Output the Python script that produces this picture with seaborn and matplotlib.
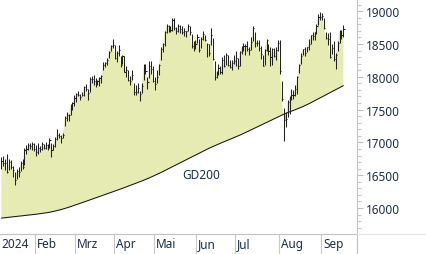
import numpy as np
import pandas as pd
import matplotlib
matplotlib.use("Agg")
import matplotlib.pyplot as plt
import seaborn as sns
from matplotlib.transforms import blended_transform_factory
from matplotlib.lines import Line2D

# ---------------- data (DAX daily, Jan 8 - Sep 17 2024) -------------
close_jan = [16716, 16688, 16690, 16547, 16705, 16622, 16572, 16432, 16567, 16555, 16683, 16628, 16890, 16907, 16961, 16942, 16972, 16904]
high_jan = [16780, 16790, 16740, 16820, 16740, 16730, 16640, 16545, 16600, 16630, 16720, 16740, 16910, 16960, 16985, 16990, 17010, 16990]
low_jan = [16590, 16640, 16580, 16540, 16580, 16600, 16480, 16345, 16440, 16480, 16560, 16590, 16650, 16820, 16890, 16900, 16890, 16870]

close_feb = [16859, 16918, 16904, 16970, 16922, 16964, 16927, 17037, 16880, 16946, 17047, 17117, 17093, 17068, 17118, 17370, 17419, 17424, 17556, 17601, 17678]
high_feb = [16960, 16990, 16940, 17000, 16980, 17000, 16980, 17060, 16990, 16980, 17080, 17200, 17140, 17110, 17140, 17400, 17460, 17430, 17580, 17620, 17720]
low_feb = [16800, 16830, 16850, 16890, 16900, 16900, 16890, 16910, 16780, 16890, 16930, 17040, 17060, 16990, 17060, 17250, 17330, 17330, 17420, 17500, 17560]

close_mar = [17735, 17716, 17698, 17716, 17842, 17815, 17747, 17966, 17961, 17942, 17936, 17933, 17987, 18015, 18180, 18206, 18261, 18384, 18477, 18492]
high_mar = [17760, 17790, 17740, 17770, 17860, 17890, 17810, 17990, 18010, 18020, 17980, 17950, 18000, 18020, 18230, 18230, 18280, 18390, 18490, 18570]
low_mar = [17620, 17700, 17640, 17700, 17700, 17780, 17650, 17770, 17900, 17880, 17850, 17880, 17860, 17900, 18100, 18150, 18180, 18280, 18390, 18440]

close_apr = [18283, 18367, 18403, 18175, 18318, 18077, 18097, 17955, 17930, 18027, 17767, 17770, 17837, 17737, 17861, 18137, 18089, 17917, 18161, 18118, 17932]
high_apr = [18480, 18390, 18480, 18310, 18340, 18320, 18170, 18100, 18010, 18110, 17900, 17880, 17900, 17790, 17900, 18190, 18200, 18000, 18240, 18240, 18170]
low_apr = [18270, 18220, 18320, 18150, 18200, 18070, 18000, 17930, 17880, 17950, 17720, 17720, 17760, 17630, 17760, 17950, 18050, 17820, 17980, 18050, 17920]

close_may = [17896, 18001, 18175, 18430, 18498, 18686, 18773, 18742, 18716, 18869, 18738, 18704, 18768, 18726, 18680, 18692, 18693, 18774, 18677, 18473, 18496, 18498]
high_may = [18000, 18100, 18190, 18450, 18520, 18700, 18800, 18790, 18770, 18890, 18900, 18760, 18810, 18790, 18780, 18750, 18700, 18800, 18780, 18650, 18550, 18560]
low_may = [17800, 17900, 18030, 18260, 18380, 18470, 18670, 18690, 18680, 18700, 18720, 18650, 18680, 18670, 18650, 18620, 18610, 18700, 18640, 18440, 18400, 18430]

close_jun = [18608, 18405, 18575, 18653, 18557, 18494, 18370, 18630, 18266, 18002, 18068, 18131, 18067, 18254, 18163, 18325, 18177, 18155, 18210, 18235]
high_jun = [18660, 18580, 18610, 18700, 18640, 18510, 18500, 18750, 18590, 18240, 18090, 18190, 18160, 18300, 18330, 18370, 18340, 18260, 18260, 18330]
low_jun = [18520, 18380, 18440, 18560, 18540, 18300, 18310, 18490, 18250, 17950, 17980, 18020, 18040, 18040, 18150, 18180, 18160, 18140, 18110, 18200]

close_jul = [18290, 18165, 18374, 18450, 18475, 18473, 18429, 18407, 18534, 18748, 18518, 18518, 18438, 18354, 18171, 18407, 18558, 18387, 18299, 18417, 18321, 18411, 18509]
high_jul = [18400, 18290, 18400, 18470, 18520, 18500, 18540, 18450, 18610, 18770, 18690, 18560, 18560, 18470, 18340, 18420, 18580, 18500, 18460, 18440, 18440, 18450, 18560]
low_jul = [18170, 18120, 18170, 18350, 18400, 18330, 18400, 18330, 18410, 18550, 18450, 18470, 18400, 18270, 18160, 18180, 18390, 18330, 18160, 18180, 18300, 18250, 18400]

close_aug = [18083, 17661, 17339, 17354, 17615, 17680, 17723, 17726, 17812, 17995, 18184, 18322, 18421, 18357, 18448, 18493, 18633, 18617, 18681, 18782, 18912, 18907]
high_aug = [18560, 17940, 17530, 17460, 17640, 17700, 17820, 17800, 17880, 18010, 18200, 18370, 18430, 18460, 18460, 18570, 18640, 18690, 18690, 18800, 18950, 18990]
low_aug = [18050, 17630, 17025, 17240, 17390, 17430, 17640, 17660, 17700, 17740, 18060, 18200, 18330, 18320, 18380, 18410, 18500, 18560, 18560, 18660, 18790, 18860]

close_sep = [18931, 18747, 18592, 18576, 18302, 18444, 18266, 18330, 18518, 18699, 18633, 18727]
high_sep = [18980, 18900, 18690, 18670, 18680, 18500, 18540, 18360, 18550, 18710, 18710, 18790]
low_sep = [18870, 18730, 18570, 18480, 18290, 18350, 18240, 18120, 18400, 18510, 18580, 18610]

# 200-day moving average (GD200)
gd200 = [15846, 15849, 15853, 15856, 15859, 15863, 15866, 15869, 15872, 15876,
         15879, 15882, 15886, 15889, 15892, 15896, 15899, 15902, 15905, 15909,
         15912,
         15916, 15920, 15925, 15930, 15935, 15941, 15947, 15954, 15961, 15968,
         15976, 15984, 15993, 16002, 16011, 16021, 16031, 16041, 16051, 16061, 16071,
         16081, 16092, 16102, 16113, 16123, 16133, 16144, 16154, 16165, 16175,
         16185, 16196, 16206, 16217, 16227, 16237, 16248, 16258, 16269, 16279, 16289,
         16300, 16311, 16322, 16333, 16344, 16355, 16366, 16377, 16388, 16399,
         16411, 16423, 16435, 16447, 16459, 16473, 16486, 16500, 16513, 16527, 16540,
         16555, 16570, 16584, 16599, 16614, 16629, 16644, 16658, 16673, 16688,
         16703, 16718, 16732, 16747, 16762, 16777, 16792, 16806, 16821, 16836,
         16851, 16866, 16880, 16895, 16910,
         16923, 16936, 16949, 16962, 16974, 16987, 16999, 17011, 17024, 17036,
         17048, 17060, 17073, 17085, 17097, 17110, 17122,
         17136, 17150, 17164, 17178, 17192, 17206, 17220, 17234, 17248, 17262,
         17276, 17290, 17304, 17318, 17332, 17346, 17360, 17374, 17388, 17402,
         17416, 17430,
         17442, 17453, 17465, 17476, 17488, 17499, 17511, 17522, 17534,
         17547, 17561, 17574, 17588,
         17603, 17619, 17634, 17650, 17665, 17680, 17696, 17711, 17727, 17742,
         17757, 17773, 17788, 17804, 17819, 17834, 17850, 17865]

month_labels = ["2024", "Feb", "Mrz", "Apr", "Mai", "Jun", "Jul", "Aug", "Sep"]
month_start_idx = [0, 18, 39, 59, 80, 102, 122, 145, 167]
y_major = [16000, 16500, 17000, 17500, 18000, 18500, 19000]

close = close_jan + close_feb + close_mar + close_apr + close_may + close_jun + close_jul + close_aug + close_sep
high = high_jan + high_feb + high_mar + high_apr + high_may + high_jun + high_jul + high_aug + high_sep
low = low_jan + low_feb + low_mar + low_apr + low_may + low_jun + low_jul + low_aug + low_sep

n = min(len(close), len(high), len(low), len(gd200))
df = pd.DataFrame({"i": np.arange(n), "close": close[:n], "high": high[:n],
                   "low": low[:n], "ma": gd200[:n]})

# ---------------- figure ----------------
sns.set_style("white")
plt.rcParams["font.family"] = ["Noto Sans", "DejaVu Sans"]

W, H = 426, 255
fig = plt.figure(figsize=(W / 100, H / 100), dpi=100)
ax_right_px, ax_bottom_px = 357, 20
ax = fig.add_axes([0, ax_bottom_px / H, ax_right_px / W, (H - ax_bottom_px) / H])

x = df["i"].values
c = df["close"].values
m = df["ma"].values
ax.fill_between(x, c, m, where=c >= m, interpolate=True, color="#e6ebb4", lw=0, zorder=1)
ax.fill_between(x, c, m, where=c < m, interpolate=True, color="#efb9a8", lw=0, zorder=1)

sns.lineplot(data=df, x="i", y="ma", color="#141414", lw=0.75, ax=ax, zorder=3)

bar_col = "#222222"
ax.vlines(x, df["low"], df["high"], color=bar_col, lw=0.75, zorder=4)
ax.hlines(c, x, x + 0.6, color=bar_col, lw=0.75, zorder=4)

ax.text(104, 16518, "GD200", fontsize=8.5, color="#1c2f4a", ha="center", va="center")

ax.set_xlim(-0.73, 185.1)
ax.set_ylim(15604, 19186)
ax.set_xlabel("")
ax.set_ylabel("")
ax.set_xticks([])

ax.yaxis.tick_right()
ax.set_yticks(y_major)
ax.set_yticklabels([str(v) for v in y_major])
ax.set_yticks(np.arange(15700, 19200, 100), minor=True)
ax.tick_params(axis="y", which="major", direction="out", length=4.5, width=0.8,
               color="#bdbdbd", labelcolor="#1c2f4a", labelsize=8.5, pad=2, right=True, left=False)
ax.tick_params(axis="y", which="minor", direction="out", length=3, width=0.8,
               color="#c8c8c8", right=True, left=False)

for s in ["top", "left"]:
    ax.spines[s].set_visible(False)
ax.spines["right"].set_color("#c3c3c3")
ax.spines["right"].set_linewidth(0.8)
ax.spines["bottom"].set_color("#c3c3c3")
ax.spines["bottom"].set_linewidth(0.8)

# month separators and labels below the axis
trans = blended_transform_factory(ax.transData, ax.transAxes)
band = ax_bottom_px / (H - ax_bottom_px)
for k, (lab, idx) in enumerate(zip(month_labels, month_start_idx)):
    if k > 0:
        ax.plot([idx - 0.5, idx - 0.5], [0, -band], transform=trans, color="#c8c8c8",
                lw=0.8, clip_on=False)
        tx = idx + 0.4
    else:
        tx = -0.2
    ax.text(tx, -band / 2, lab, transform=trans, fontsize=8.5, color="#1c2f4a",
            ha="left", va="center", clip_on=False)

# axis line continuing into the label band, and faint extension to the right
fig.add_artist(Line2D([ax_right_px / W, ax_right_px / W], [0, ax_bottom_px / H],
                      transform=fig.transFigure, color="#c3c3c3", lw=0.8))
fig.add_artist(Line2D([ax_right_px / W, 1], [ax_bottom_px / H, ax_bottom_px / H],
                      transform=fig.transFigure, color="#e6e6e6", lw=0.8))

fig.savefig("out.png", dpi=100)
